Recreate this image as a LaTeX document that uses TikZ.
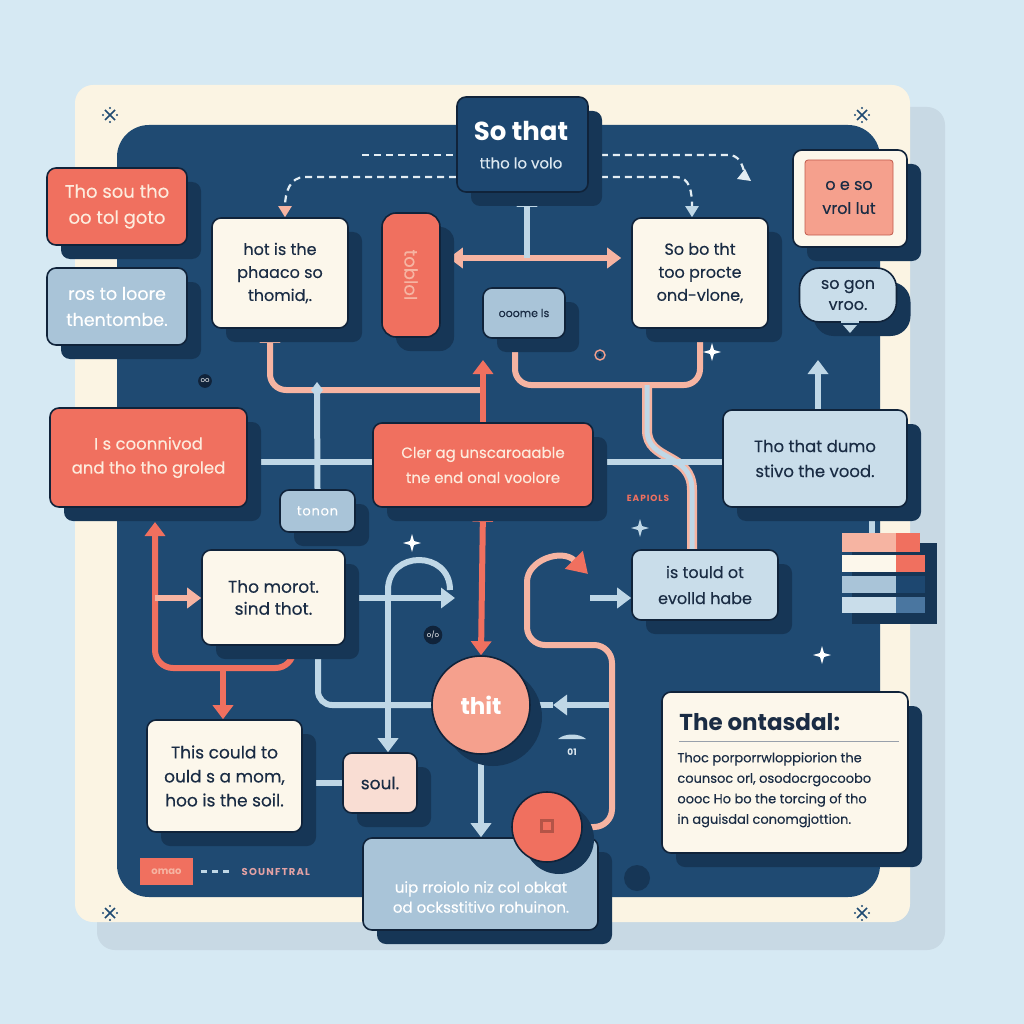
\documentclass[tikz,border=0pt]{standalone}
\usepackage{fontspec}
\setmainfont{Poppins}
\newfontfamily\medf{Poppins}[FakeBold=0.3]
\usetikzlibrary{arrows.meta,shadows,calc}
\pgfdeclarelayer{back}
\pgfdeclarelayer{conn}
\pgfsetlayers{back,conn,main}
\definecolor{bgc}{HTML}{D6E9F3}
\definecolor{cardc}{HTML}{FBF4E3}
\definecolor{cardsh}{HTML}{C8D9E4}
\definecolor{navy}{HTML}{1F4A72}
\definecolor{navyb}{HTML}{1D4770}
\definecolor{shd}{HTML}{163656}
\definecolor{bordc}{HTML}{10233A}
\definecolor{coral}{HTML}{F0705F}
\definecolor{salm}{HTML}{F5A08D}
\definecolor{salml}{HTML}{F6B4A2}
\definecolor{bgray}{HTML}{A9C4D8}
\definecolor{lblue}{HTML}{C9DDEA}
\definecolor{lline}{HTML}{BFD7E6}
\definecolor{creamb}{HTML}{FCF7EB}
\definecolor{creamt}{HTML}{FDEBDD}
\definecolor{txtd}{HTML}{1A2C44}
\definecolor{pinkb}{HTML}{F9DDD3}
\definecolor{subc}{HTML}{DCE8F0}
\definecolor{blue2}{HTML}{4A76A0}
\definecolor{dashc}{HTML}{E3EDF3}
\definecolor{legc}{HTML}{E3A2A4}
\tikzset{
  bx/.style={draw=bordc, line width=1.6pt, rounded corners=9pt, align=center, inner sep=0pt,
    drop shadow={shadow xshift=14pt, shadow yshift=-14pt, fill=shd, opacity=1}},
  cbx/.style={draw=bordc, line width=1.6pt, circle, align=center, inner sep=0pt,
    drop shadow={shadow xshift=12pt, shadow yshift=-12pt, fill=shd, opacity=1}},
  ll/.style={draw=lline, line width=6pt},
  sl/.style={draw=salml, line width=6pt},
  cl/.style={draw=coral, line width=6pt},
  dsh/.style={draw=dashc, line width=2.2pt, dash pattern=on 7pt off 5pt},
  Tri/.tip={Triangle[length=14pt,width=20pt]},
  smalltip/.tip={Triangle[length=11pt,width=13pt]},
}
\newcommand\fs[2]{\fontsize{#1}{#2}\selectfont\medf}
\newcommand\mysparkle[3]{\fill[#3] (#1,#2) ++(0,-9) -- ++(2,7) -- ++(7,2) -- ++(-7,2) -- ++(-2,7) -- ++(-2,-7) -- ++(-7,-2) -- ++(7,-2) -- cycle;}
\newcommand\cornermark[2]{\draw[navy, line width=1.6pt] (#1-5,#2-5) -- (#1+5,#2+5) (#1-5,#2+5) -- (#1+5,#2-5);
  \fill[navy] (#1-7,#2) circle (1.2) (#1+7,#2) circle (1.2) (#1,#2-7) circle (1.2) (#1,#2+7) circle (1.2);}
\begin{document}
\begin{tikzpicture}[x=1pt,y=-1pt]
\useasboundingbox (0,0) rectangle (1024,1024);
\begin{pgfonlayer}{back}
\fill[bgc] (0,0) rectangle (1024,1024);
\fill[cardsh, rounded corners=18] (97,107) rectangle (945,950);
\fill[cardc, rounded corners=18] (75,85) rectangle (910,922);
\fill[navy, rounded corners=32] (117,125) rectangle (880,897);
\cornermark{110}{115}
\cornermark{862}{115}
\cornermark{110}{913}
\cornermark{862}{913}
\end{pgfonlayer}

% ---------- nodes ----------
\node[bx, fill=navyb, minimum width=131, minimum height=95] (sothat) at (522.5,144.5) {};
\node[text=white, inner sep=0, font=\fontsize{26}{28}\selectfont\bfseries] (sothatt) at (521,131) {So that};
\node[text=subc, inner sep=0, font=\fs{15}{17}] (sothats) at (521,163) {ttho lo volo};
\node[bx, fill=coral, text=creamt, minimum width=140, minimum height=77, font=\fs{18}{26}] (lt1) at (117,206.5) {Tho sou tho\\oo tol goto};
\node[bx, fill=bgray, text=white, minimum width=140, minimum height=77, font=\fs{17.5}{26}] (lt2) at (117,306.5) {ros to loore\\thentombe.};
\node[bx, fill=creamb, text=txtd, minimum width=136, minimum height=110, font=\fs{16}{23}] (hot) at (280,273) {hot is the\\phaaco so\\thomid,.};
\node[bx, fill=coral, rounded corners=14pt, minimum width=58, minimum height=124] (pill) at (411,275) {};
\node[rotate=-90, text=salml, font=\fs{18}{20}] (pillt) at (pill) {tobloI};
\node[bx, fill=bgray, text=txtd, minimum width=82, minimum height=50, font=\fs{11}{13}] (ooome) at (524,313) {ooome ls};
\node[bx, fill=creamb, text=txtd, minimum width=136, minimum height=110, font=\fs{16}{23}] (sobo) at (700,273) {So bo tht\\too procte\\ond-vlone,};
\node[bx, fill=creamb, minimum width=114, minimum height=97] (trout) at (850,198.5) {};
\node[draw=coral!80!black, line width=0.8pt, rounded corners=3pt, fill=salm, text=txtd, minimum width=88, minimum height=75, align=center, inner sep=0pt, font=\fs{16}{24}] (trin) at (849,197.5) {o e so\\vrol lut};
\node[bx, fill=lblue, rounded corners=20pt, text=txtd, minimum width=97, minimum height=54, font=\fs{16}{21}] (sogon) at (848,295) {so gon\\vroo.};
\node[bx, fill=coral, text=creamt, minimum width=197, minimum height=99, font=\fs{16.5}{24}] (coon) at (148.5,457.5) {I s coonnivod\\and tho tho groled};
\node[bx, fill=bgray, text=white, minimum width=75, minimum height=42, font=\fontsize{13}{15}\selectfont\medf\addfontfeature{LetterSpace=6}] (tonon) at (317.5,511) {tonon};
\node[bx, fill=coral, text=creamt, minimum width=220, minimum height=84, font=\fs{15}{25}] (cler) at (483,465) {Cler ag unscaroaable\\tne end onal voolore};
\node[bx, fill=lblue, text=txtd, minimum width=184, minimum height=97, font=\fs{16.5}{25}] (dumo) at (815,458.5) {Tho that dumo\\stivo the vood.};
\node[bx, fill=creamb, text=txtd, minimum width=143, minimum height=95, font=\fs{17}{22}] (morot) at (273.5,597.5) {Tho morot.\\sind thot.};
\node[bx, fill=lblue, text=txtd, minimum width=146, minimum height=70, font=\fs{16}{26}] (tould) at (705,585) {is tould ot\\evolld habe};
\node[cbx, fill=salm, text=white, minimum size=98, font=\fontsize{23}{25}\selectfont\bfseries] (thit) at (481,705) {thit};
\node[bx, fill=creamb, text=txtd, minimum width=155, minimum height=112, font=\fs{17}{24}] (could) at (224.5,776) {This could to\\ould s a mom,\\hoo is the soil.};
\node[bx, fill=pinkb, text=txtd, minimum width=74, minimum height=60, font=\fs{17}{19}] (soul) at (380,783) {soul.};
\node[bx, fill=bgray, minimum width=235, minimum height=92] (uip) at (480.5,884) {};
\node[text=white, align=center, inner sep=0, font=\fs{15}{20}] (uipt) at (481,897) {uip rroiolo niz col obkat\\od ocksstitivo rohuinon.};
\node[cbx, fill=coral, minimum size=70] (scirc) at (547,827) {};
\fill[coral!75!black] ($(scirc)+(-7,-8)$) rectangle ($(scirc)+(7,6)$);
\fill[coral] ($(scirc)+(-4,-5)$) rectangle ($(scirc)+(4,3)$);
\node[circle, fill=shd, minimum size=26, inner sep=0] (ddot) at (637,878) {};
\node[bx, fill=creamb, minimum width=246, minimum height=161] (onta) at (785,772.5) {};
\node[anchor=west, text=txtd, inner sep=0, font=\fontsize{23}{26}\selectfont\bfseries] (ontat) at ($(onta.north west)+(18,31)$) {The ontasdal:};
\draw[draw=txtd!45, line width=0.9pt] ($(onta.north west)+(18,50)$) -- ($(onta.north east)+(-10,50)$);
\node[anchor=north west, align=left, text=txtd, inner sep=0, font=\fs{13}{20.5}] (ontab) at ($(onta.north west)+(16,61)$)
  {Thoc porporrwloppiorion the\\counsoc orl, osodocrgocoobo\\oooc Ho bo the torcing of tho\\in aguisdal conomgjottion.};

% small labels
\node[circle, fill=bordc, text=white, inner sep=1.5pt, font=\fontsize{7}{7}\selectfont] (oo) at (205,381) {oo};
\node[circle, fill=bordc, text=white, inner sep=1.5pt, font=\fontsize{7}{7}\selectfont] (oslo) at (433,635) {o/o};
\node[text=coral, font=\fontsize{9}{10}\selectfont\bfseries\addfontfeature{LetterSpace=10}] (eap) at (648,498) {EAPIOLS};
\node[text=subc, font=\fontsize{9}{10}\selectfont\bfseries] (l01) at (572,752) {01};
\fill[lline] (558,739) .. controls (565,733) and (579,733) .. (586,739) -- cycle;
\fill[lline] (850,333) -- (843,325) -- (857,325) -- cycle;
\draw[lline, line width=1.5pt] (841,322) -- (859,322);
\draw[salm, line width=1.4pt] (600,355) circle (5);
\fill[bordc] (600,355) circle (1.8);

% legend
\node[fill=coral, text=salml, minimum width=53, minimum height=27, inner sep=0, font=\fontsize{10}{11}\selectfont\bfseries] (omao) at (166.5,871.5) {omao};
\draw[lline, line width=2.5pt, dash pattern=on 6pt off 5pt] ($(omao.east)+(8,0)$) -- ($(omao.east)+(36,0)$);
\node[anchor=west, text=legc, font=\fontsize{10}{11}\selectfont\bfseries\addfontfeature{LetterSpace=12}] (sountral) at ($(omao.east)+(45,0)$) {SOUNFTRAL};

% bars
\fill[shd] (852,543) rectangle (937,624);
\fill[salml] (842,533) rectangle (896,552); \fill[coral] (896,533) rectangle (920,552);
\fill[creamb] (842,555) rectangle (896,572); \fill[coral] (896,555) rectangle (925,572);
\fill[bgray] (842,576) rectangle (896,593); \fill[navyb] (896,576) rectangle (925,593);
\fill[lblue] (842,597) rectangle (896,613); \fill[blue2] (896,597) rectangle (925,613);

% sparkles
\mysparkle{412}{543}{white}
\mysparkle{712}{352}{white}
\mysparkle{822}{655}{white}
\mysparkle{640}{528}{lline}

% ---------- connectors ----------
\begin{pgfonlayer}{conn}
\coordinate (dl1) at (362,155);
\coordinate (dl2) at (305,177);
\coordinate (dr1) at (728,155);
\coordinate (dr2) at (676,177);
\coordinate (dre) at (745,175);
\draw[dsh] (dl1) -- (dl1 -| sothat.west);
\draw[dsh, -{smalltip[color=salml]}] (dl2 -| sothat.west) -- (dl2) .. controls (290,177) and (285,192) .. ($(hot.north)+(5,0)$);
\draw[dsh] (dr1 -| sothat.east) -- (dr1) .. controls (738,155) and (742,162) .. (dre);
\fill[dashc] (dre) ++(6,6) -- ++(-14,-2) -- ++(8,-10) -- cycle;
\draw[dsh, -{smalltip[color=lline]}] (dr2 -| sothat.east) -- (dr2) .. controls (690,177) and (692,192) .. ($(sobo.north)+(-8,0)$);

\coordinate (c258) at (0,258);
\draw[sl, {Tri}-{Tri}] ($(pill.east |- c258)+(8,0)$) -- ($(sobo.west |- c258)+(-10,0)$);
\coordinate (jt) at (527,258);
\draw[ll, -Tri] (jt) -- (sothat.south -| jt);

\coordinate (c385) at (0,385);
\draw[sl, rounded corners=16] ($(ooome.south)+(-9,0)$) |- (sobo.south |- c385) -- (sobo.south);

\draw[salml, line width=10pt] (647,385) -- (647,430) .. controls (647,462) and (692,452) .. (692,490) -- (692,550);
\draw[lline, line width=5pt] (647,385) -- (647,430) .. controls (647,462) and (692,452) .. (692,490) -- (692,550);

\coordinate (jl) at (317,390);
\coordinate (jc) at (483,390);
\draw[sl, rounded corners=16, -Tri] (jc) -| ($(hot.south)+(-10,0)$);
\draw[ll] (jl) -- (tonon.north);
\fill[lline] (jl) ++(0,-8) -- ++(6,8) -- ++(-6,8) -- ++(-6,-8) -- cycle;

\coordinate (cu) at (483,360);
\draw[cl, -Tri] (cler.north) -- (cu);

\coordinate (c462) at (0,462);
\draw[ll] (coon.east |- c462) -- (cler.west |- c462);
\draw[ll] (cler.east |- c462) -- (dumo.west |- c462);

\coordinate (du) at (818,360);
\draw[ll, -Tri] (dumo.north -| du) -- (du);
\coordinate (bt) at (872,533);
\draw[ll] (dumo.south -| bt) -- (bt);

\coordinate (ta) at (590,598);
\draw[ll, -Tri] (ta) -- (tould.west |- ta);

\draw[cl, {Tri}-{Tri}] (cler.south) -- (thit.north);

\coordinate (ma) at (455,598);
\draw[ll, -Tri] (morot.east |- ma) -- (ma);
\coordinate (av) at (388,598);
\draw[ll] (av) -- (388,590) .. controls (388,550) and (450,550) .. (450,590);
\draw[ll, -Tri] (av) -- (soul.north -| av);

\coordinate (lw) at (318,648);
\draw[ll, rounded corners=14] (lw) |- (thit.west);

\coordinate (te) at (612,705);
\coordinate (tm) at (553,705);
\draw[ll] (tm) -- (thit.east);
\draw[ll, -Tri] (te) -- (tm);
\draw[ll, -Tri] (thit.south) -- (uip.north -| thit.south);

\draw[sl, rounded corners=18, -{Triangle[length=20pt,width=24pt,color=coral]}] (scirc.east) -| (612,645) -| (527,600) .. controls (527,560) and (562,548) .. (588,574);

\coordinate (cup) at (155,522);
\coordinate (c668) at (0,668);
\draw[cl, rounded corners=18, -Tri] ($(morot.south)+(20,0)$) |- (cup |- c668) -- (cup);
\draw[sl, -Tri] (cup |- ta) -- (morot.west |- ta);
\coordinate (cd) at (223,668);
\draw[cl, -Tri] (cd) -- (could.north -| cd);
\draw[ll] (could.east |- soul.west) -- (soul.west);
\end{pgfonlayer}
\end{tikzpicture}
\end{document}
